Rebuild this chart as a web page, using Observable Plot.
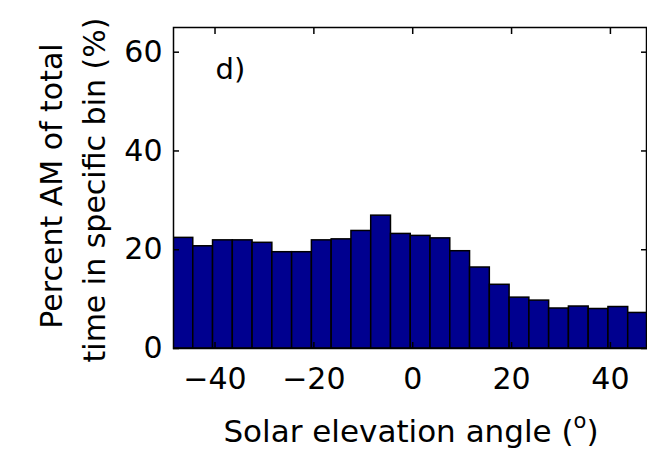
<!DOCTYPE html>
<html>
<head>
<meta charset="utf-8">
<script src="https://cdn.jsdelivr.net/npm/d3@7"></script>
<script src="https://cdn.jsdelivr.net/npm/@observablehq/plot@0.6"></script>
<style>
  body { margin: 0; background: #fff; }
  #chart svg { display: block; }
</style>
</head>
<body>
<div id="chart"></div>
<script>
// Bin left edges (solar elevation angle, degrees), bin width 4
const binLeft = [-48.4, -44.4, -40.4, -36.4, -32.4, -28.4, -24.4, -20.4, -16.4, -12.4, -8.4, -4.4,
                 -0.4, 3.6, 7.6, 11.6, 15.6, 19.6, 23.6, 27.6, 31.6, 35.6, 39.6, 43.6];
const binWidth = 4;
// Percent AM of total time in each bin
const percent = [22.4, 20.7, 21.9, 21.9, 21.4, 19.5, 19.5, 21.9, 22.1, 23.8, 26.9, 23.2,
                 22.8, 22.3, 19.7, 16.4, 12.9, 10.3, 9.7, 8.1, 8.5, 8.0, 8.4, 7.2];
const xTicks = [-40, -20, 0, 20, 40];
const yTicks = [0, 20, 40, 60];
const xDomain = [-48.4, 47.3];
const yDomain = [0, 65];
const yLabelLines = ["Percent AM of total", "time in specific bin (%)"];
const xLabelMain = "Solar elevation angle (";
const xLabelSup = "o";
const xLabelEnd = ")";
const panelLabel = "d)";

const bars = binLeft.map((x1, i) => ({x1, x2: x1 + binWidth, v: percent[i]}));

const chart = Plot.plot({
  width: 647,
  height: 453,
  marginLeft: 173,
  marginRight: 1,
  marginTop: 27,
  marginBottom: 105,
  style: {fontFamily: "DejaVu Sans", fontSize: "30px", color: "black", background: "white"},
  x: {domain: xDomain},
  y: {domain: yDomain},
  marks: [
    Plot.rectY(bars, {x1: "x1", x2: "x2", y: "v", fill: "#00008f", stroke: "black", strokeWidth: 1.5, clip: true}),
    Plot.frame({stroke: "black", strokeWidth: 1.5}),
    Plot.axisX({ticks: xTicks, tickSize: -6, tickPadding: 25, label: null, strokeWidth: 1.5}),
    Plot.axisX({anchor: "top", ticks: xTicks, tickSize: -6, tickFormat: () => "", label: null, strokeWidth: 1.5}),
    Plot.axisY({ticks: yTicks, tickSize: -6, tickPadding: 17, label: null, strokeWidth: 1.5}),
    Plot.axisY({anchor: "right", ticks: yTicks, tickSize: -6, tickFormat: () => "", label: null, strokeWidth: 1.5}),
    Plot.text([yLabelLines[0]], {frameAnchor: "left", text: d => d, rotate: -90, dx: -121, dy: -2, fontSize: 30, textAnchor: "middle", lineAnchor: "middle", fill: "black"}),
    Plot.text([yLabelLines[1]], {frameAnchor: "left", text: d => d, rotate: -90, dx: -78, dy: 2, fontSize: 30, textAnchor: "middle", lineAnchor: "middle", fill: "black"}),
    Plot.text([panelLabel], {frameAnchor: "top-left", text: d => d, dx: 42, dy: 31, fontSize: 29, textAnchor: "start", lineAnchor: "top", fill: "black"})
  ]
});

const svg = d3.select(chart);
const t = svg.append("text")
  .attr("x", 411)
  .attr("y", 442)
  .attr("text-anchor", "middle")
  .attr("font-family", "DejaVu Sans")
  .attr("font-size", 31)
  .attr("fill", "black");
t.append("tspan").text(xLabelMain);
t.append("tspan").attr("font-size", 21).attr("dy", -14).text(xLabelSup);
t.append("tspan").attr("dy", 14).text(xLabelEnd);

document.getElementById("chart").appendChild(chart);
</script>
</body>
</html>
